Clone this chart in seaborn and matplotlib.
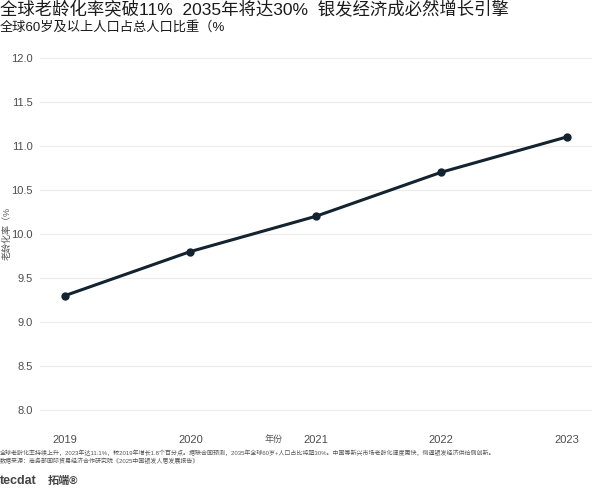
import matplotlib
matplotlib.use("Agg")
import matplotlib.pyplot as plt
import seaborn as sns
import pandas as pd

years = [2019, 2020, 2021, 2022, 2023]
ratio = [9.3, 9.8, 10.2, 10.7, 11.1]
y_ticks = [8.0, 8.5, 9.0, 9.5, 10.0, 10.5, 11.0, 11.5, 12.0]

df = pd.DataFrame({"年份": years, "老龄化率": ratio})

sns.set_theme(style="whitegrid")
plt.rcParams["font.family"] = ["Liberation Sans", "Noto Sans CJK SC", "DejaVu Sans"]

fig = plt.figure(figsize=(5.96, 4.94), dpi=100)
ax = fig.add_axes([0.067, 0.134, 0.926, 0.785])

line_col = "#13232f"
sns.lineplot(data=df, x="年份", y="老龄化率", ax=ax, color=line_col,
             linewidth=2.2, marker="o", markersize=6, markeredgewidth=0)

ax.set_xlim(2018.8, 2023.2)
ax.set_ylim(7.8, 12.2)
ax.set_xticks(years, [str(y) for y in years])
ax.set_yticks(y_ticks, [f"{v:.1f}" for v in y_ticks])
ax.grid(axis="x", visible=False)
ax.grid(axis="y", color="#ebebeb", linewidth=0.8)
for s in ax.spines.values():
    s.set_visible(False)
ax.tick_params(axis="both", labelsize=8, colors="#4d4d4d", length=0, pad=5)
ax.set_xlabel("年份", fontsize=6.5, color="#555555", va="center")
ax.xaxis.set_label_coords(0.424, -0.031)
ax.set_ylabel("老龄化率（%", fontsize=6.5, color="#555555")
ax.yaxis.set_label_coords(-0.052, 0.5)

fig.text(0.0, 0.997, "全球老龄化率突破11%  2035年将达30%  银发经济成必然增长引擎",
         fontsize=12.5, ha="left", va="top", color="#1a1a1a")
fig.text(0.0, 0.957, "全球60岁及以上人口占总人口比重（%",
         fontsize=9.5, ha="left", va="top", color="#1a1a1a")

caption = ("全球老龄化率持续上升，2023年达11.1%，较2019年增长1.8个百分点。据联合国预测，"
           "2035年全球60岁+人口占比将超30%。中国等新兴市场老龄化速度更快，倒逼银发经济供给侧创新。\n"
           "数据来源：商务部国际贸易经济合作研究院《2025中国银发人居发展报告》")
fig.text(0.0, 0.091, caption, fontsize=4.3, ha="left", va="top",
         color="#555555", linespacing=1.5)

fig.text(0.0, 0.026, "tecdat", fontsize=9, ha="left", va="center",
         color="#444444", fontweight="bold")
fig.text(0.08, 0.026, "拓端®", fontsize=8, ha="left", va="center",
         color="#444444", fontweight="bold")

fig.savefig("out.png", dpi=100, facecolor="white")
